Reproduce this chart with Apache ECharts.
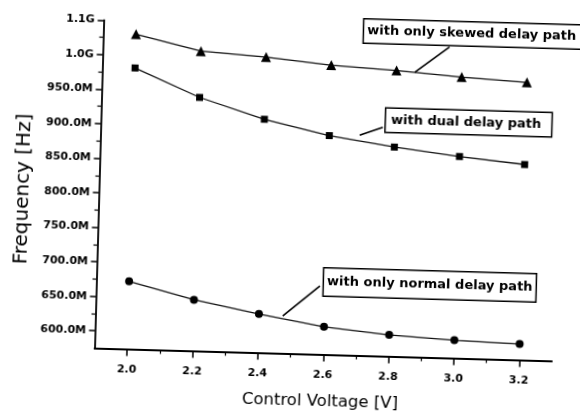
<!DOCTYPE html>
<html>
<head>
<meta charset="utf-8">
<script src="https://cdn.jsdelivr.net/npm/echarts@6/dist/echarts.min.js"></script>
<style>
  html, body { margin: 0; padding: 0; background: #fff; overflow: hidden; }
  #chart { width: 580px; height: 418px; transform: rotate(1.6deg); transform-origin: 50% 50%; }
</style>
</head>
<body>
<div id="chart"></div>
<script>
// Control voltage (V) and oscillation frequency (MHz) for three delay-path configurations
const voltage = [2.0, 2.2, 2.4, 2.6, 2.8, 3.0, 3.2];
const freqSkewed = [1031, 1009, 1003, 994, 989, 982, 977];
const freqDual = [982, 942, 913, 892, 878, 867, 858];
const freqNormal = [673, 649, 631, 615, 606, 601, 598];

// Axis ticks
const xTickValues = [2.0, 2.2, 2.4, 2.6, 2.8, 3.0, 3.2];
const xTickLabels = ['2.0', '2.2', '2.4', '2.6', '2.8', '3.0', '3.2'];
const xMinorTicks = [2.1, 2.3, 2.5, 2.7, 2.9, 3.1];
const yTickValues = [600, 650, 700, 750, 800, 850, 900, 950, 1000, 1050];
const yTickLabels = ['600.0M', '650.0M', '700.0M', '750.0M', '800.0M', '850.0M', '900.0M', '950.0M', '1.0G', '1.1G'];
const yMinorTicks = [625, 675, 725, 775, 825, 875, 925, 975, 1025];

// Callout texts and arrow endpoints [voltage, MHz]
const labelSkewed = 'with only skewed delay path';
const labelDual = 'with dual delay path';
const labelNormal = 'with only normal delay path';
const arrowSkewed = [[2.96, 1025], [2.856, 987]];
const arrowDual = [[2.763, 906], [2.693, 894]];
const arrowNormal = [[2.584, 674], [2.473, 629]];

const pairs = (ys) => voltage.map((v, i) => [v, ys[i]]);
const xLabel = (v) => { const i = xTickValues.findIndex(t => Math.abs(t - v) < 1e-6); return i < 0 ? '' : xTickLabels[i]; };
const yLabel = (v) => { const i = yTickValues.findIndex(t => Math.abs(t - v) < 1e-6); return i < 0 ? '' : yTickLabels[i]; };
const arrow = (a) => ({
  silent: true,
  symbol: ['none', 'arrow'],
  symbolSize: [0, 9],
  label: { show: false },
  lineStyle: { color: '#000', width: 1.6, type: 'solid' },
  data: [[{ coord: a[0] }, { coord: a[1] }]]
});

const tickFont = { fontFamily: 'DejaVu Sans', fontWeight: 'bold', fontSize: 11, color: '#000' };
const boxStyle = {
  font: 'bold 13px "DejaVu Sans"',
  fill: '#000',
  backgroundColor: '#fff',
  borderColor: '#000',
  borderWidth: 1.5
};

const chart = echarts.init(document.getElementById('chart'), null, { renderer: 'canvas' });
chart.setOption({
  animation: false,
  backgroundColor: '#fff',
  grid: { left: 98.5, top: 25.4, right: 24, bottom: 64.5 },
  xAxis: [
    {
      type: 'value', min: 1.9, max: 3.3,
      name: 'Control Voltage [V]', nameLocation: 'middle', nameGap: 39,
      nameTextStyle: { fontFamily: 'DejaVu Sans', fontSize: 16.5, color: '#000', padding: [0, 4, 0, 0] },
      axisLine: { show: true, lineStyle: { color: '#000', width: 1.8 } },
      axisTick: { show: true, customValues: xTickValues, length: 7, lineStyle: { color: '#000', width: 1.5 } },
      axisLabel: { customValues: xTickValues, formatter: xLabel, margin: 15, ...tickFont },
      splitLine: { show: false }
    },
    {
      type: 'value', min: 1.9, max: 3.3, position: 'bottom',
      axisLine: { show: false },
      axisTick: { show: true, customValues: xMinorTicks, length: 4, lineStyle: { color: '#000', width: 1.2 } },
      axisLabel: { show: false },
      splitLine: { show: false }
    }
  ],
  yAxis: [
    {
      type: 'value', min: 575, max: 1050,
      name: 'Frequency [Hz]', nameLocation: 'middle', nameGap: 62,
      nameTextStyle: { fontFamily: 'DejaVu Sans', fontSize: 20, color: '#000', padding: [0, 14, 0, 0] },
      axisLine: { show: true, lineStyle: { color: '#000', width: 1.8 } },
      axisTick: { show: true, customValues: yTickValues, length: 6, lineStyle: { color: '#000', width: 1.5 } },
      axisLabel: { customValues: yTickValues, formatter: yLabel, margin: 9, ...tickFont },
      splitLine: { show: false }
    },
    {
      type: 'value', min: 575, max: 1050, position: 'left',
      axisLine: { show: false },
      axisTick: { show: true, customValues: yMinorTicks, length: 4, lineStyle: { color: '#000', width: 1.2 } },
      axisLabel: { show: false },
      splitLine: { show: false }
    }
  ],
  series: [
    {
      name: labelSkewed, type: 'line', data: pairs(freqSkewed),
      symbol: 'triangle', symbolSize: 10,
      itemStyle: { color: '#000' }, lineStyle: { color: '#111', width: 1.3 },
      markLine: arrow(arrowSkewed)
    },
    {
      name: labelDual, type: 'line', data: pairs(freqDual),
      symbol: 'rect', symbolSize: 7,
      itemStyle: { color: '#000' }, lineStyle: { color: '#111', width: 1.3 },
      markLine: arrow(arrowDual)
    },
    {
      name: labelNormal, type: 'line', data: pairs(freqNormal),
      symbol: 'circle', symbolSize: 8,
      itemStyle: { color: '#000' }, lineStyle: { color: '#111', width: 1.3 },
      markLine: arrow(arrowNormal)
    }
  ],
  graphic: [
    { type: 'text', left: 357.7, top: 16, style: { ...boxStyle, text: labelSkewed, padding: [5, 12, 5, 3] } },
    { type: 'text', left: 382, top: 104.4, style: { ...boxStyle, text: labelDual, padding: [5, 10, 5, 5] } },
    { type: 'text', left: 324.6, top: 266, style: { ...boxStyle, text: labelNormal, padding: [7, 3, 7, 3] } }
  ]
});
</script>
</body>
</html>
